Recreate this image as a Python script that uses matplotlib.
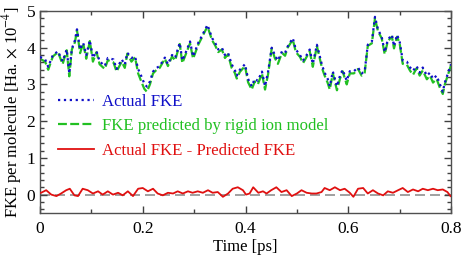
import matplotlib
matplotlib.use("Agg")
import matplotlib.pyplot as plt
from matplotlib.ticker import MultipleLocator

plt.rcParams['font.family'] = ['Liberation Serif', 'DejaVu Serif']
plt.rcParams['mathtext.fontset'] = 'stix'

# time axis for the FKE curves [ps]
time_fke = [0, 0.01, 0.016, 0.025, 0.035, 0.044, 0.052, 0.057, 0.062, 0.068,
            0.072, 0.078, 0.084, 0.09, 0.097, 0.103, 0.11, 0.116, 0.126, 0.132,
            0.143, 0.149, 0.159, 0.165, 0.17, 0.178, 0.185, 0.191, 0.198, 0.203,
            0.208, 0.214, 0.22, 0.227, 0.233, 0.243, 0.249, 0.257, 0.263, 0.272,
            0.277, 0.286, 0.292, 0.298, 0.308, 0.318, 0.326, 0.335, 0.341, 0.347,
            0.354, 0.36, 0.366, 0.373, 0.379, 0.383, 0.389, 0.399, 0.405, 0.412,
            0.418, 0.424, 0.432, 0.438, 0.444, 0.451, 0.457, 0.463, 0.471, 0.477,
            0.482, 0.492, 0.498, 0.506, 0.512, 0.519, 0.525, 0.531, 0.539, 0.549,
            0.554, 0.56, 0.564, 0.57, 0.578, 0.584, 0.589, 0.597, 0.603, 0.611,
            0.619, 0.626, 0.632, 0.638, 0.646, 0.652, 0.658, 0.665, 0.671, 0.677,
            0.685, 0.689, 0.695, 0.7, 0.706, 0.714, 0.72, 0.726, 0.733, 0.739,
            0.745, 0.753, 0.759, 0.765, 0.772, 0.778, 0.784, 0.788, 0.794, 0.8]

fke_actual = [3.75, 3.68, 3.48, 3.8, 3.9, 3.63, 3.95, 3.3, 3.97, 4.2,
              4.5, 3.95, 4.13, 3.8, 4.2, 3.72, 3.9, 3.63, 3.5, 3.72,
              3.68, 3.42, 3.68, 3.54, 3.86, 3.72, 3.76, 3.42, 3.2, 3.02,
              2.94, 3.08, 3.35, 3.45, 3.5, 3.73, 3.55, 3.8, 3.72, 4.13,
              3.65, 3.95, 4.17, 3.76, 4.13, 4.4, 4.62, 4.26, 4.13, 3.95,
              4.0, 3.8, 3.86, 3.55, 3.4, 3.24, 3.4, 3.55, 3.15, 2.95,
              3.15, 3.1, 3.35, 2.95, 3.35, 4.0, 3.8, 3.65, 3.9, 3.86,
              4.03, 4.26, 3.95, 3.8, 3.65, 3.8, 3.95, 3.56, 4.08, 3.52,
              3.32, 3.15, 2.95, 3.35, 2.95, 3.24, 3.4, 3.1, 3.36, 3.36,
              3.46, 3.3, 3.36, 4.08, 4.17, 4.84, 4.49, 4.3, 3.88, 4.22,
              4.35, 4.04, 4.35, 4.17, 3.65, 3.62, 3.47, 3.37, 3.5, 3.32,
              3.46, 3.24, 3.32, 3.15, 3.24, 3.02, 2.8, 3.05, 3.3, 3.55]

fke_pred = [3.7, 3.62, 3.4, 3.76, 3.88, 3.55, 3.93, 3.22, 3.95, 4.15,
            4.48, 3.85, 4.12, 3.7, 4.18, 3.62, 3.88, 3.55, 3.42, 3.66,
            3.6, 3.35, 3.62, 3.45, 3.84, 3.62, 3.74, 3.3, 3.05, 2.88,
            2.8, 3.0, 3.3, 3.4, 3.45, 3.7, 3.5, 3.76, 3.65, 4.1,
            3.58, 3.9, 4.12, 3.7, 4.08, 4.36, 4.58, 4.2, 4.06, 3.88,
            3.95, 3.72, 3.82, 3.45, 3.32, 3.16, 3.34, 3.5, 3.06, 2.86,
            3.08, 3.0, 3.3, 2.86, 3.28, 3.98, 3.72, 3.56, 3.86, 3.78,
            4.0, 4.22, 3.88, 3.75, 3.58, 3.75, 3.9, 3.48, 4.04, 3.44,
            3.24, 3.04, 2.86, 3.3, 2.84, 3.16, 3.36, 3.0, 3.3, 3.3,
            3.42, 3.24, 3.32, 4.05, 4.12, 4.8, 4.44, 4.26, 3.82, 4.18,
            4.3, 3.98, 4.3, 4.12, 3.56, 3.54, 3.38, 3.26, 3.44, 3.24,
            3.38, 3.14, 3.24, 3.05, 3.15, 2.92, 2.74, 3.0, 3.26, 3.52]

# difference curve: actual - predicted
time_diff = [0.002, 0.012, 0.022, 0.032, 0.041, 0.051, 0.058, 0.067, 0.074, 0.083,
             0.093, 0.103, 0.113, 0.122, 0.132, 0.142, 0.152, 0.161, 0.171, 0.181,
             0.191, 0.2, 0.21, 0.22, 0.229, 0.239, 0.249, 0.259, 0.268, 0.278,
             0.288, 0.297, 0.307, 0.317, 0.327, 0.336, 0.346, 0.356, 0.366, 0.375,
             0.385, 0.395, 0.401, 0.408, 0.415, 0.425, 0.434, 0.441, 0.45, 0.46,
             0.47, 0.48, 0.49, 0.5, 0.509, 0.519, 0.529, 0.538, 0.548, 0.554,
             0.564, 0.574, 0.584, 0.593, 0.603, 0.61, 0.619, 0.629, 0.638, 0.648,
             0.658, 0.668, 0.677, 0.687, 0.697, 0.706, 0.716, 0.726, 0.736, 0.745,
             0.755, 0.765, 0.774, 0.784, 0.793, 0.799]
fke_diff = [0.05, 0.12, 0.0, -0.04, 0.03, 0.12, 0.16, -0.02, -0.04, 0.16,
            0.12, 0.03, 0.09, 0.0, 0.09, 0.0, 0.05, -0.02, 0.09, -0.04,
            0.16, 0.18, 0.09, 0.16, 0.03, -0.02, 0.05, 0.03, 0.09, 0.03,
            0.09, 0.05, 0.09, 0.05, 0.12, 0.05, 0.07, -0.06, 0.03, 0.16,
            0.2, 0.12, 0.0, 0.03, 0.2, 0.05, 0.09, 0.03, 0.12, 0.2,
            0.07, 0.12, -0.04, 0.03, 0.12, 0.05, 0.03, 0.03, 0.07, 0.18,
            0.12, 0.2, 0.12, 0.16, 0.05, -0.06, 0.16, 0.18, 0.03, 0.12,
            0.03, -0.02, 0.09, 0.05, 0.12, 0.18, 0.07, 0.14, 0.09, 0.16,
            0.12, 0.16, 0.12, 0.14, 0.07, -0.04]

fig = plt.figure(figsize=(4.63, 2.61), dpi=100)
ax = fig.add_axes([0.0864, 0.184, 0.8877, 0.774])

ax.axhline(0, color='#909090', lw=1.2, ls=(0, (6, 3)), zorder=1)
ax.plot(time_fke, fke_actual, color='#1010c8', lw=1.6, ls=':', label='Actual FKE', zorder=3)
ax.plot(time_fke, fke_pred, color='#22c022', lw=1.6, ls='--', dashes=(4, 1.5),
        label='FKE predicted by rigid ion model', zorder=2)
ax.plot(time_diff, fke_diff, color='#e01010', lw=1.3, label='Actual FKE - Predicted FKE', zorder=3)

ax.set_xlim(0, 0.8)
ax.set_ylim(-0.5, 5)
ax.xaxis.set_major_locator(MultipleLocator(0.2))
ax.xaxis.set_minor_locator(MultipleLocator(0.1))
ax.yaxis.set_major_locator(MultipleLocator(1))
ax.yaxis.set_minor_locator(MultipleLocator(0.2))
ax.set_xticks([0, 0.2, 0.4, 0.6, 0.8])
ax.set_xticklabels(['0', '0.2', '0.4', '0.6', '0.8'])
ax.set_yticks([0, 1, 2, 3, 4, 5])
ax.set_yticklabels(['0', '1', '2', '3', '4', '5'])
ax.tick_params(which='both', direction='in', top=True, right=True, labelsize=12.5,
               color='#404040', width=1)
ax.tick_params(which='major', length=5)
ax.tick_params(which='minor', length=3)
ax.tick_params(axis='x', pad=6)
for lab in ax.get_xticklabels() + ax.get_yticklabels():
    lab.set_fontfamily('Liberation Serif')
for s in ax.spines.values():
    s.set_color('#505050')
    s.set_linewidth(1)

ax.set_xlabel('Time [ps]', fontsize=12, labelpad=1)
ax.set_ylabel('FKE per molecule [Ha. $\\times$ 10$^{-4}$]', fontsize=12, labelpad=2)

leg = ax.legend(loc='upper left', bbox_to_anchor=(0.008, 0.665), frameon=False, fontsize=12.1,
                handlelength=2.1, handletextpad=0.5, labelspacing=0.5)
for txt, c in zip(leg.get_texts(), ['#1010c8', '#22c022', '#e01010']):
    txt.set_color(c)

fig.savefig('out.png', dpi=100)
